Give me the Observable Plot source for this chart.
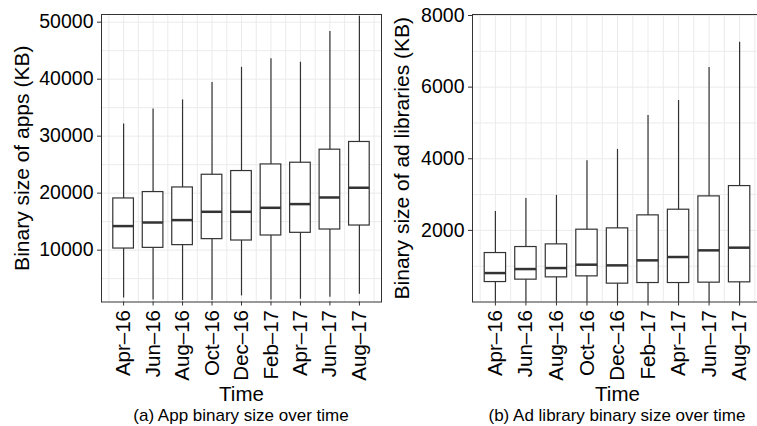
<!DOCTYPE html>
<html><head><meta charset="utf-8">
<script src="https://cdn.jsdelivr.net/npm/d3@7"></script>
<script src="https://cdn.jsdelivr.net/npm/@observablehq/plot@0.6"></script>
<style>
body{margin:0;background:#fff;}
#fig{position:relative;width:757px;height:426px;overflow:hidden;font-family:"Liberation Sans",Arial,Helvetica,sans-serif;background:#fff;}
.panel{position:absolute;top:0;}
.cap{position:absolute;top:407px;font-size:17px;line-height:17px;text-align:center;color:#000;white-space:nowrap;}
</style>
</head><body>
<div id="fig">
  <div class="panel" id="pa" style="left:0;width:390px"></div>
  <div class="panel" id="pb" style="left:390px;width:372px"></div>
  <div class="cap" style="left:101px;width:280px">(a) App binary size over time</div>
  <div class="cap" style="left:472px;width:290px">(b) Ad library binary size over time</div>
</div>
<script>
// ---- data ----
const months = ["Apr–16","Jun–16","Aug–16","Oct–16","Dec–16","Feb–17","Apr–17","Jun–17","Aug–17"];

// App binary size (KB)
const appLow  = [1600, 1270, 1150, 1150, 1970, 1270, 1380, 1730, 2270];
const appQ1   = [10280, 10400, 10880, 11930, 11690, 12570, 13040, 13620, 14320];
const appMed  = [14220, 14850, 15270, 16730, 16730, 17430, 18080, 19240, 20950];
const appQ3   = [19070, 20190, 21000, 23230, 23880, 25040, 25340, 27630, 28980];
const appHigh = [32140, 34780, 36360, 39400, 42090, 43570, 42970, 48370, 51050];
const appTicks = [10000, 20000, 30000, 40000, 50000];
const appGrid  = [5000,10000,15000,20000,25000,30000,35000,40000,45000,50000];

// Ad library binary size (KB)
const adLow  = [0, 0, 0, 0, 0, 0, 0, 0, 0];
const adQ1   = [557, 624, 688, 716, 512, 530, 530, 540, 549];
const adMed  = [808, 920, 948, 1042, 1023, 1163, 1256, 1442, 1517];
const adQ3   = [1367, 1535, 1609, 2019, 2056, 2419, 2577, 2949, 3237];
const adHigh = [2530, 2893, 2977, 3945, 4260, 5210, 5628, 6550, 7255];
const adTicks = [2000, 4000, 6000, 8000];
const adGrid  = [1000,2000,3000,4000,5000,6000,7000,8000];

const H = 407, PLOT_BOTTOM = 301.5;
const ink = "#333333", gridCol = "#ebebeb";

function panel({low,q1,med,q3,high,domain,ticks,grid,title,width,ml,mr,titleDx}) {
  const rows = months.map((m,i)=>({i, m, low:low[i], q1:q1[i], med:med[i], q3:q3[i], high:high[i]}));
  const halfSteps = d3.range(-0.5, months.length, 0.5);
  return Plot.plot({
    width, height: H,
    marginLeft: ml, marginRight: mr, marginTop: 14, marginBottom: H - PLOT_BOTTOM,
    style: {fontFamily: '"Liberation Sans",Arial,Helvetica,sans-serif', fontSize: "19px", color: "#000", background: "#fff", maxWidth: "none"},
    x: {type: "linear", domain: [-0.75, months.length - 0.25]},
    y: {domain},
    marks: [
      Plot.ruleY(grid, {stroke: gridCol, strokeWidth: 1}),
      Plot.ruleX(halfSteps, {stroke: gridCol, strokeWidth: 1}),
      Plot.ruleX(rows, {x: "i", y1: "low", y2: "high", stroke: ink, strokeWidth: 1.2}),
      Plot.rectY(rows, {x1: d => d.i - 0.35, x2: d => d.i + 0.35, y1: "q1", y2: "q3", fill: "#fff", stroke: ink, strokeWidth: 1.2}),
      Plot.ruleY(rows, {y: "med", x1: d => d.i - 0.35, x2: d => d.i + 0.35, stroke: ink, strokeWidth: 2.5}),
      Plot.frame({stroke: ink, strokeWidth: 1}),
      Plot.axisY({ticks, tickFormat: d => String(d), tickSize: 4, tickPadding: 4, label: null, stroke: ink, fontSize: 19.5}),
      Plot.axisX({ticks: d3.range(months.length), tickFormat: i => months[i], tickRotate: -90, tickSize: 4, tickPadding: 4, label: null, stroke: ink, fontSize: 20.5}),
      Plot.text([title], {frameAnchor: "left", rotate: -90, textAnchor: "middle", dx: titleDx, fontSize: 21, fill: "#000"}),
      Plot.text(["Time"], {frameAnchor: "bottom", textAnchor: "middle", lineAnchor: "bottom", dy: 99, fontSize: 20.5, fill: "#000"})
    ]
  });
}

document.getElementById("pa").append(panel({
  low: appLow, q1: appQ1, med: appMed, q3: appQ3, high: appHigh,
  domain: [900, 51350], ticks: appTicks, grid: appGrid,
  title: "Binary size of apps (KB)", width: 390, ml: 101, mr: 9, titleDx: -79
}));
document.getElementById("pb").append(panel({
  low: adLow, q1: adQ1, med: adMed, q3: adQ3, high: adHigh,
  domain: [0, 8028], ticks: adTicks, grid: adGrid,
  title: "Binary size of ad libraries (KB)", width: 372, ml: 82, mr: 0, titleDx: -70
}));
</script>
</body></html>
